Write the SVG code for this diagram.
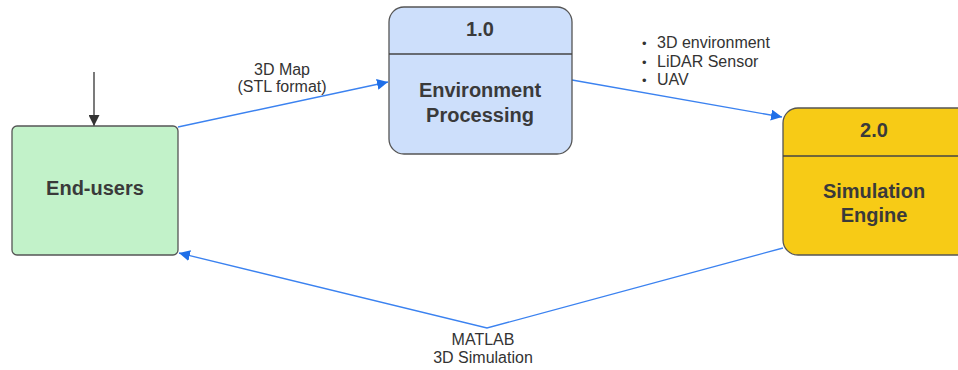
<svg xmlns="http://www.w3.org/2000/svg" width="958" height="370" viewBox="0 0 958 370">
<defs>
<style>
.lbl{font-family:"Liberation Sans",Arial,sans-serif;font-size:20px;font-weight:bold;fill:#3a3a3a;text-anchor:middle}
.sm{font-family:"Liberation Sans",Arial,sans-serif;font-size:16px;fill:#333;text-anchor:middle}
.bl{font-family:"Liberation Sans",Arial,sans-serif;font-size:16px;fill:#333}
.box{stroke:#555;stroke-width:1.3}
.flow{fill:none;stroke:#3b82f0;stroke-width:1.3}
</style>
<marker id="ab" viewBox="0 0 10 10" refX="10" refY="5" markerWidth="11" markerHeight="11" markerUnits="userSpaceOnUse" orient="auto">
<path d="M0,0 L10,5 L0,10 z" fill="#1f6fe8"/>
</marker>
<marker id="ak" viewBox="0 0 10 10" refX="10" refY="5" markerWidth="11" markerHeight="11" markerUnits="userSpaceOnUse" orient="auto">
<path d="M0,0 L10,5 L0,10 z" fill="#333"/>
</marker>
</defs>
<rect width="958" height="370" fill="#fff"/>
<g id="connectors">
<line x1="94" y1="72" x2="94" y2="126" stroke="#333" stroke-width="1.3" marker-end="url(#ak)"/>
<line class="flow" x1="178" y1="127" x2="388" y2="82" marker-end="url(#ab)"/>
<line class="flow" x1="572" y1="80" x2="782" y2="117" marker-end="url(#ab)"/>
<polyline class="flow" points="783,248 487,328 179,253" marker-end="url(#ab)"/>
<text class="sm" x="282" y="75">3D Map</text>
<text class="sm" x="282" y="92">(STL format)</text>
<text class="bl" y="48"><tspan x="642" font-size="13">•</tspan><tspan x="657">3D environment</tspan></text>
<text class="bl" y="66.5"><tspan x="642" font-size="13">•</tspan><tspan x="657">LiDAR Sensor</tspan></text>
<text class="bl" y="85"><tspan x="642" font-size="13">•</tspan><tspan x="657">UAV</tspan></text>
<text class="sm" x="483" y="345">MATLAB</text>
<text class="sm" x="483" y="363">3D Simulation</text>
</g>
<g id="end-users">
<rect class="box" x="12" y="126" width="166" height="129" rx="5" fill="#c2f2c9"/>
<text class="lbl" x="95" y="195">End-users</text>
</g>
<g id="env-processing">
<rect class="box" x="389" y="7" width="183" height="147" rx="15" fill="#cddffb"/>
<line x1="389" y1="54" x2="572" y2="54" stroke="#444" stroke-width="1.3"/>
<text class="lbl" x="480" y="36">1.0</text>
<text class="lbl" x="480" y="97">Environment</text>
<text class="lbl" x="480" y="122">Processing</text>
</g>
<g id="sim-engine">
<rect class="box" x="783" y="108" width="190" height="147" rx="15" fill="#f7cb16"/>
<line x1="783" y1="156" x2="958" y2="156" stroke="#444" stroke-width="1.3"/>
<text class="lbl" x="874" y="137">2.0</text>
<text class="lbl" x="874" y="198">Simulation</text>
<text class="lbl" x="874" y="222">Engine</text>
</g>
</svg>
